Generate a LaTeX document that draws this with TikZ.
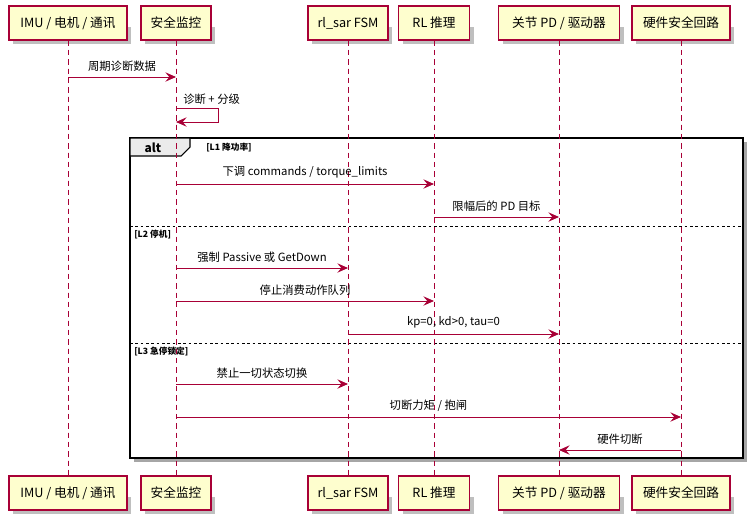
\documentclass[tikz,border=0pt]{standalone}
\usepackage{fontspec}
\setmainfont{Noto Sans CJK SC}
\usetikzlibrary{arrows.meta}
\definecolor{pb}{HTML}{A80036}
\definecolor{pf}{HTML}{FEFECE}
\begin{document}
\begin{tikzpicture}[x=0.75pt,y=-0.75pt,
  part/.style={draw=pb,fill=pf,line width=0.8pt,minimum height=25.5pt,inner sep=0pt,font=\fontsize{9.5}{11}\selectfont},
  life/.style={draw=pb,dashed,line width=0.6pt,dash pattern=on 4pt off 3pt},
  msg/.style={draw=pb,line width=0.7pt,-{Stealth[length=8pt,width=7pt,inset=3pt]}},
  lbl/.style={font=\fontsize{8.5}{10}\selectfont,inner sep=0pt,text=black},
  guard/.style={font=\bfseries\fontsize{6.5}{8}\selectfont,inner sep=0pt,anchor=west}]
\useasboundingbox (0,0) rectangle (753,518);
\foreach \n/\x/\w/\t in {a/68/118/{IMU / 电机 / 通讯},b/176/70/安全监控,c/348/80/{rl\_sar FSM},d/434/71/RL 推理,e/559/121/{关节 PD / 驱动器},f/681/98/硬件安全回路}{
  \fill[black!25] (\x-\w/2+4,27) rectangle (\x+\w/2+4,44);
  \fill[black!25] (\x-\w/2+4,497) rectangle (\x+\w/2+4,514);
  \node[part,minimum width=\w*0.75pt] (\n t) at (\x,23) {\t};
  \node[part,minimum width=\w*0.75pt] (\n b) at (\x,493) {\t};
  \draw[life] (\n t.south) -- (\n b.north);
}
% alt frame
\fill[black!35] (134,142) rectangle (747,462);
\draw[line width=1.3pt,fill=white] (130,138) rectangle (743,458);
\draw[line width=0.8pt,fill=black!8] (130,138) -- (190,138) -- (190,147) -- (181,156) -- (130,156) -- cycle;
\node[font=\bfseries\fontsize{9}{10}\selectfont,inner sep=0pt] (alt) at (153,148) {alt};
\node[guard] (g1) at (206,148) {[L1 降功率]};
\draw[dash pattern=on 2pt off 2pt,line width=0.6pt] (130,226) -- (743,226);
\node[guard] (g2) at (134,235) {[L2 停机]};
\draw[dash pattern=on 2pt off 2pt,line width=0.6pt] (130,343) -- (743,343);
\node[guard] (g3) at (134,351) {[L3 急停锁定]};
% redraw lifelines over frame
\foreach \n in {a,b,c,d,e,f}{\draw[life] (\n t.south) -- (\n b.north);}
% messages
\coordinate (a1) at (68,77); \coordinate (b1) at (176,77);
\draw[msg] (a1) -- node[lbl,above=4pt]{周期诊断数据} (b1);
\coordinate (s0) at (176,108); \coordinate (s1) at (176,122);
\draw[msg] (s0) -- (218,108) -- (218,122) -- (s1);
\node[lbl,anchor=west] (sl) at (183,99) {诊断 + 分级};
\newcommand\mymsg[5]{\coordinate (p#1) at (#2,#4); \coordinate (q#1) at (#3,#4);
  \draw[msg] (p#1) -- node[lbl,above=4pt]{#5} (q#1);}
\mymsg{1}{176}{434}{184}{下调 commands / torque\_limits}
\mymsg{2}{434}{559}{217}{限幅后的 PD 目标}
\mymsg{3}{176}{348}{268}{强制 Passive 或 GetDown}
\mymsg{4}{176}{434}{301}{停止消费动作队列}
\mymsg{5}{348}{559}{334}{kp=0, kd>0, tau=0}
\mymsg{6}{176}{348}{384}{禁止一切状态切换}
\mymsg{7}{176}{681}{417}{切断力矩 / 抱闸}
\mymsg{8}{681}{559}{450}{硬件切断}
\end{tikzpicture}
\end{document}
